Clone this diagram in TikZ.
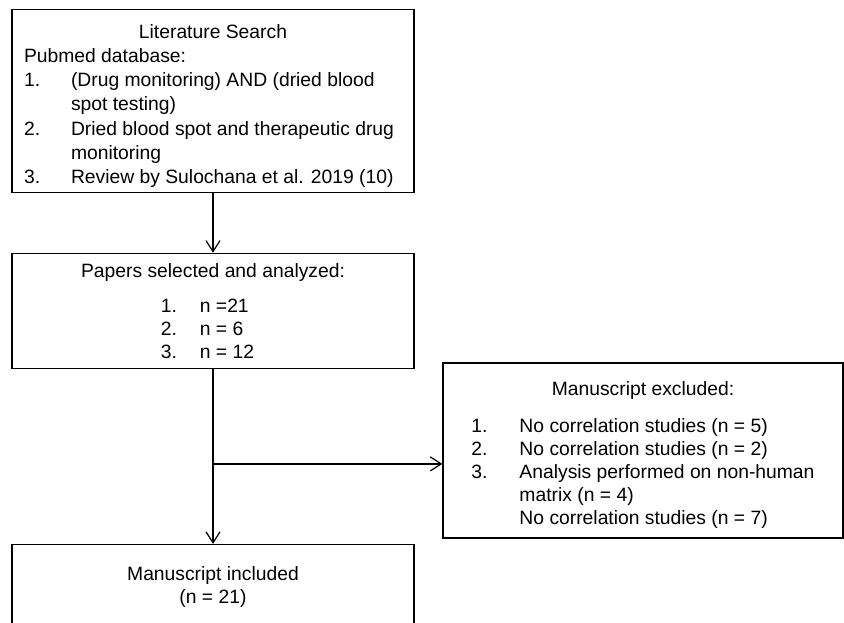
\documentclass[tikz,border=0pt]{standalone}
\usepackage{fontspec}
\setmainfont{Liberation Sans}
\usetikzlibrary{positioning,arrows.meta}

\tikzset{
  box/.style={draw, line width=1.2pt, align=center, inner sep=0pt,
    minimum width=402pt, font=\fontsize{19.3}{23}\selectfont},
  flow/.style={->, line width=1.2pt},
}

\begin{document}
\begin{tikzpicture}[x=1pt,y=-1pt,>={Straight Barb[length=11pt,width=14pt]}]
\useasboundingbox (0,0) rectangle (844,622);
\clip (0,0) rectangle (844,622);

% search and selection
\node[box, minimum height=183pt, anchor=north, font=\fontsize{19.3}{24.3}\selectfont] (search) at (213,8.5)
  {\rule{0pt}{28pt}Literature Search\\
   \begin{tabular}[t]{@{}p{47pt}@{}l@{\hspace{8pt}}}
   \multicolumn{2}{@{}l@{}}{Pubmed database:}\\
   1. & (Drug monitoring) AND (dried blood\\
      & spot testing)\\
   2. & Dried blood spot and therapeutic drug\\
      & monitoring\\
   3. & Review by Sulochana et al. 2019 (10)
   \end{tabular}};

\node[box, minimum height=115pt, below=60pt of search] (papers)
  {\rule{0pt}{22pt}Papers selected and analyzed:\\[12pt]
   \begin{tabular}[t]{@{}p{39pt}@{}l@{\hspace{11pt}}}
   1. & n =21\\
   2. & n = 6\\
   3. & n = 12
   \end{tabular}};

\node[box, minimum width=400pt, minimum height=175pt] (excluded) at (643,450.5)
  {\rule{0pt}{26pt}Manuscript excluded:\\[14pt]
   \begin{tabular}[t]{@{}p{48pt}@{}l@{}}
   1. & No correlation studies (n = 5)\\
   2. & No correlation studies (n = 2)\\
   3. & Analysis performed on non-human\\
      & matrix (n = 4)\\
      & No correlation studies (n = 7)
   \end{tabular}};

\node[box, minimum height=88pt, below=175pt of papers] (included)
  {Manuscript included\\(n = 21)\rule[-8pt]{0pt}{8pt}};

% connectors
\draw[flow] (search) -- (papers);
\draw[flow] (papers) -- (included);
\path (papers.south) ++(0,95) coordinate (branch);
\draw[flow] (branch) -- (branch -| excluded.west);

\end{tikzpicture}
\end{document}
